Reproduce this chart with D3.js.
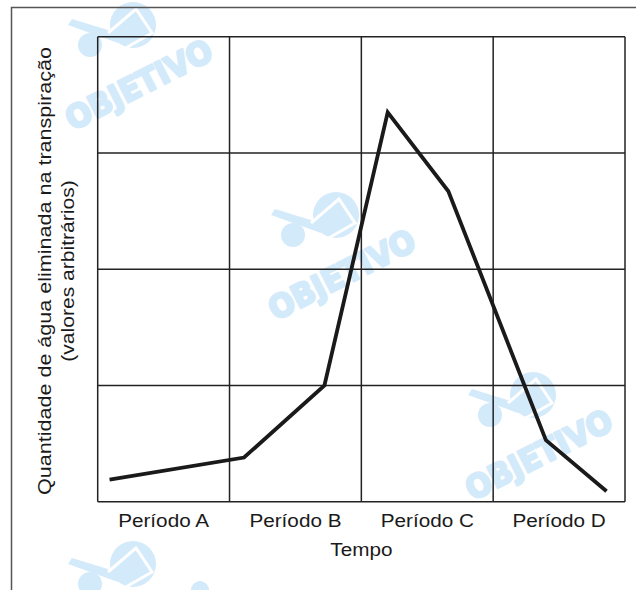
<!DOCTYPE html>
<html>
<head>
<meta charset="utf-8">
<script src="https://cdn.jsdelivr.net/npm/d3@7"></script>
<style>
    body { margin: 0; background: #fff; }
    svg { display: block; font-family: "Liberation Sans", Arial, sans-serif; }
</style>
</head>
<body>
<div id="chart"></div>
<script>
// données (temps en périodes, quantité en unités arbitraires)
const periodos = ["Período A", "Período B", "Período C", "Período D"];
const tempo = [0.09, 1.11, 1.72, 2.20, 2.66, 3.40, 3.86];
const agua = [0.19, 0.38, 1.00, 3.35, 2.67, 0.53, 0.09];
const yTicks = [0, 1, 2, 3, 4];

const width = 636;
const height = 590;
const margin = { top: 36.7, right: 11, bottom: 88.3, left: 97.7 };

const svg = d3.select("#chart")
    .append("svg")
    .attr("width", width)
    .attr("height", height);

// Échelles
const x = d3.scaleLinear()
    .domain([0, periodos.length])
    .range([margin.left, width - margin.right]);

const y = d3.scaleLinear()
    .domain([0, 4])
    .range([height - margin.bottom, margin.top]);

const xBand = d3.scaleBand()
    .domain(periodos)
    .range([margin.left, width - margin.right]);

// filigrane (le dernier est coupé par le bas, on ne garde que le logo)
const wm = svg.append("g").attr("fill", "#d3eafa");
[[138, 83, true], [341, 273, true], [538, 453, true], [138, 622, false]].forEach(([cx, cy, withText]) => {
    const g = wm.append("g").attr("transform", `translate(${cx},${cy})`);
    g.append("circle").attr("cx", -5).attr("cy", -58).attr("r", 23);
    g.append("circle").attr("cx", -48).attr("cy", -38).attr("r", 12);
    g.append("path")
        .attr("d", "M-70,-58 L-20,-40 L-14,-48 L-66,-64 Z");
    g.append("path")
        .attr("fill", "none")
        .attr("stroke", "#fff")
        .attr("stroke-width", 3)
        .attr("d", "M-30,-50 L-2,-74 L14,-50 L-14,-34");
    if (withText) {
        g.append("text")
            .attr("transform", "rotate(-27)")
            .attr("text-anchor", "middle")
            .attr("y", 13)
            .attr("stroke", "#d3eafa")
            .attr("stroke-width", 2.5)
            .attr("stroke-linejoin", "round")
            .style("font-family", "DejaVu Sans")
            .style("font-weight", "bold")
            .style("font-size", "32px")
            .attr("textLength", 160)
            .attr("lengthAdjust", "spacingAndGlyphs")
            .text("OBJETIVO");
    } else {
        g.append("circle").attr("cx", 62).attr("cy", -32).attr("r", 9);
    }
});

// cadre
svg.append("path")
    .attr("d", `M11.5,${height} V7.5 H${width}`)
    .attr("fill", "none")
    .attr("stroke", "#555")
    .attr("stroke-width", 1.5);

// grille
const grid = svg.append("g")
    .attr("stroke", "#222")
    .attr("stroke-width", 1.5);

grid.selectAll("line.v")
    .data(d3.range(periodos.length + 1))
    .join("line")
    .attr("class", "v")
    .attr("x1", d => x(d))
    .attr("x2", d => x(d))
    .attr("y1", y(4))
    .attr("y2", y(0));

grid.selectAll("line.h")
    .data(yTicks)
    .join("line")
    .attr("class", "h")
    .attr("x1", x(0))
    .attr("x2", x(periodos.length))
    .attr("y1", d => y(d))
    .attr("y2", d => y(d));

// courbe
const line = d3.line()
    .x((d, i) => x(tempo[i]))
    .y(d => y(d));

svg.append("path")
    .datum(agua)
    .attr("d", line)
    .attr("fill", "none")
    .attr("stroke", "#1a1a1a")
    .attr("stroke-width", 3.8)
    .attr("stroke-linejoin", "miter");

// axe X (étiquettes seulement)
svg.append("g")
    .attr("transform", `translate(0,${y(0)})`)
    .call(d3.axisBottom(xBand).tickSize(0).tickPadding(13))
    .call(g => g.select(".domain").remove())
    .selectAll("text")
    .attr("fill", "#1a1a1a")
    .style("font-family", "Liberation Sans, Arial, sans-serif")
    .style("font-size", "18px");

function stretch(sel, k) {
    sel.each(function () {
        const len = this.getComputedTextLength();
        d3.select(this)
            .attr("textLength", len * k)
            .attr("lengthAdjust", "spacingAndGlyphs");
    });
}
stretch(svg.selectAll(".tick text"), 1.15);

// titres des axes
const xTitle = svg.append("text")
    .attr("x", x(2))
    .attr("y", 556)
    .attr("text-anchor", "middle")
    .attr("fill", "#1a1a1a")
    .style("font-size", "18px")
    .text("Tempo");
stretch(xTitle, 1.15);

const yTitle = svg.append("g")
    .attr("transform", `translate(0,271) rotate(-90)`)
    .attr("fill", "#1a1a1a")
    .style("font-size", "18px")
    .attr("text-anchor", "middle");

const t1 = yTitle.append("text")
    .attr("y", 51)
    .text("Quantidade de água eliminada na transpiração");
const t2 = yTitle.append("text")
    .attr("y", 74)
    .text("(valores arbitrários)");
t1.attr("textLength", 448).attr("lengthAdjust", "spacingAndGlyphs");
stretch(t2, 1.17);
</script>
</body>
</html>
